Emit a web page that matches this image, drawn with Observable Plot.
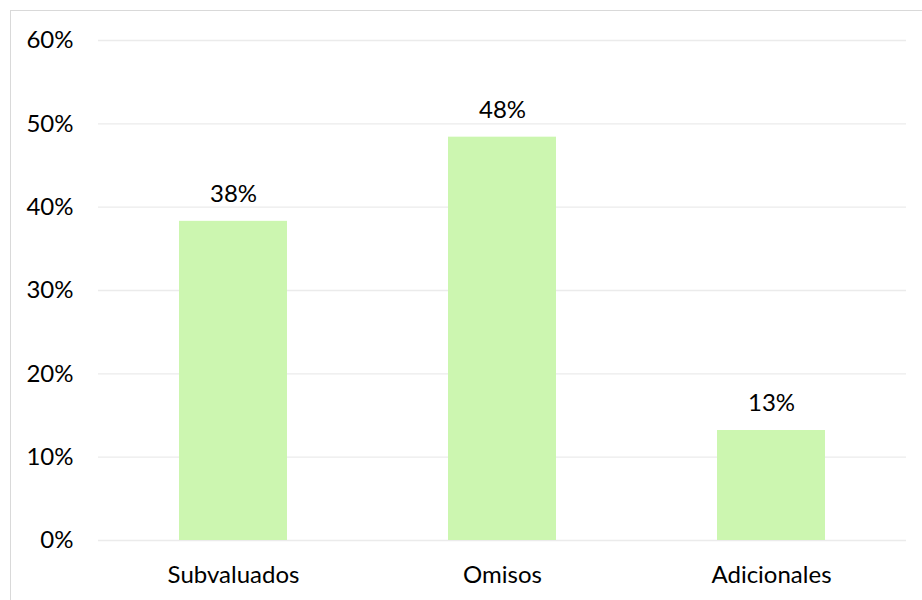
<!DOCTYPE html>
<html>
<head>
<meta charset="utf-8">
<script src="https://cdn.jsdelivr.net/npm/d3@7"></script>
<script src="https://cdn.jsdelivr.net/npm/@observablehq/plot@0.6"></script>
<style>
  html, body { margin: 0; padding: 0; background: #fff; overflow: hidden; }
  #frame { position: absolute; left: 10px; top: 10px; width: 2000px; height: 2000px; border-left: 1px solid #d9d9d9; border-top: 1px solid #d9d9d9; }
  #chart { position: absolute; left: 0; top: 0; }
</style>
</head>
<body>
<div id="frame"></div>
<div id="chart"></div>
<script>
const categories = ["Subvaluados", "Omisos", "Adicionales"];
const values = [38.3, 48.4, 13.2];
const labels = ["38%", "48%", "13%"];
const yTicks = [0, 10, 20, 30, 40, 50, 60];

const data = categories.map((c, i) => ({category: c, value: values[i], label: labels[i]}));

const chart = Plot.plot({
  width: 922,
  height: 600,
  marginLeft: 98,
  marginRight: 16,
  marginTop: 40,
  marginBottom: 60,
  style: {fontFamily: "Lato, 'Open Sans', sans-serif", fontSize: "24px", color: "#000", background: "transparent"},
  x: {domain: categories, paddingInner: 0.6, paddingOuter: 0.3, label: null},
  y: {domain: [0, 60], label: null},
  marks: [
    Plot.ruleY(yTicks, {stroke: "#ebebeb", strokeWidth: 1.3}),
    Plot.barY(data, {x: "category", y: "value", fill: "#ccf6b0"}),
    Plot.axisX({tickSize: 0, tickPadding: 25, fontSize: 24, label: null}),
    Plot.axisY(yTicks, {tickSize: 0, tickPadding: 25, fontSize: 24, tickFormat: d => d + "%", label: null}),
    Plot.text(data, {x: "category", y: "value", text: "label", dy: -27, fontSize: 24, fill: "#000"})
  ]
});
document.getElementById("chart").appendChild(chart);
</script>
</body>
</html>
